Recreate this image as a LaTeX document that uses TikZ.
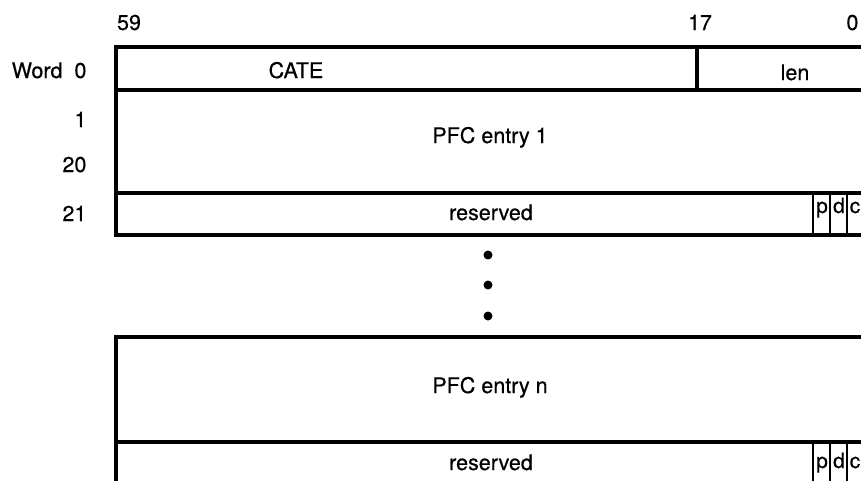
\documentclass[tikz,border=0pt]{standalone}
\usepackage{fontspec}
\setmainfont{TeX Gyre Heros}
\newfontfamily\hv{TeX Gyre Heros}[FakeBold=0.5]
\begin{document}
\begin{tikzpicture}[x=1pt,y=-1pt,line width=3.2pt,
  lbl/.style={font=\hv\fontsize{21.5}{26}\selectfont,inner sep=0pt,anchor=base},
  rlbl/.style={lbl,anchor=base east},
  bit/.style={font=\hv\fontsize{21}{24}\selectfont,inner sep=0pt,anchor=base},
  dot/.style={circle,fill=black,inner sep=0pt,minimum size=9pt}]
\useasboundingbox (0,0) rectangle (861,480);
\begin{scope}
\clip (0,0) rectangle (861,480);
% first block
\draw (116,47) rectangle (864,235);
\draw (116,90) -- (864,90);
\draw (116,193) -- (864,193);
\draw (697,47) -- (697,90);
\foreach \x in {813,830,847} \draw[line width=2.6pt] (\x,193) -- (\x,235);
% second block
\draw (116,492) -- (116,337) -- (864,337) -- (864,492);
\draw (116,442) -- (864,442);
\foreach \x in {813,830,847} \draw[line width=2.6pt] (\x,442) -- (\x,492);
\end{scope}
% bit numbers
\node[lbl] (b59) at (129,30) {59};
\node[lbl] (b17) at (700,30) {17};
\node[lbl,anchor=base east] (b0) at (860,30) {0};
% word numbers
\node[rlbl] (w0) at (88,78) {Word\ \ 0};
\node[rlbl] (w1) at (88,127) {1};
\node[rlbl] (w20) at (88,172) {20};
\node[rlbl] (w21) at (88,221) {21};
% fields
\node[lbl] (cate) at (296,78) {CATE};
\node[lbl] (len) at (795,80) {len};
\node[lbl] (pfc1) at (490,143) {PFC entry 1};
\node[lbl] (res1) at (491,220) {reserved};
\node[bit] (p1) at (822,213) {p};
\node[bit] (d1) at (839,213) {d};
\node[bit] (c1) at (855,213) {c};
\node[dot] (dotA) at (488,255) {};
\node[dot] (dotB) at (488,285) {};
\node[dot] (dotC) at (488,316) {};
\node[lbl] (pfcn) at (490,393) {PFC entry n};
\node[lbl] (res2) at (491,470) {reserved};
\node[bit] (p2) at (822,468) {p};
\node[bit] (d2) at (839,468) {d};
\node[bit] (c2) at (855,468) {c};
\end{tikzpicture}
\end{document}
